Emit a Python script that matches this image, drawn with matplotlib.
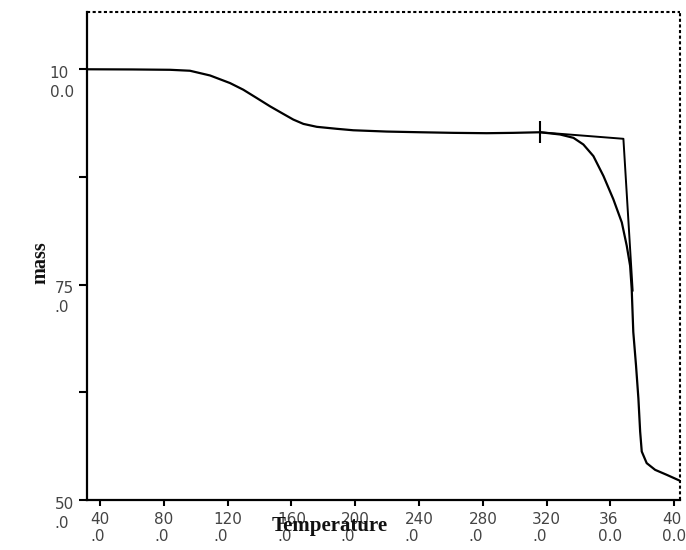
import matplotlib
matplotlib.use("Agg")
import matplotlib.pyplot as plt
from matplotlib.transforms import ScaledTranslation

# TGA curve (temperature, mass %)
temp = [31.9, 60.0, 83.9, 96.4, 109.0, 121.5, 129.8, 138.2, 146.6, 154.9, 161.2,
        167.5, 175.9, 188.4, 198.8, 219.7, 240.6, 261.5, 282.4, 299.1, 315.9,
        328.4, 336.8, 343.0, 349.3, 355.6, 361.8, 367.1, 370.2, 372.3, 373.3,
        374.3, 376.0, 377.5, 378.6, 379.6, 382.7, 388.0, 395.3, 403.6]
mass = [100.0, 99.98, 99.94, 99.83, 99.28, 98.40, 97.63, 96.67, 95.70, 94.82, 94.16,
        93.66, 93.32, 93.09, 92.92, 92.77, 92.69, 92.62, 92.58, 92.62, 92.69,
        92.43, 92.04, 91.27, 89.92, 87.61, 84.91, 82.22, 79.51, 77.20, 74.51,
        69.50, 65.64, 61.79, 57.94, 55.63, 54.28, 53.50, 52.92, 52.23]

# onset construction: tangent lines and onset marker
tangent_t = [315.9, 368.1, 373.9]
tangent_m = [92.69, 91.93, 74.31]
onset_t = [315.9]
onset_m = [92.69]

xticks = [40, 80, 120, 160, 200, 240, 280, 320, 360, 400]
xtick_labels = ["40\n.0", "80\n.0", "120\n.0", "160\n.0", "200\n.0", "240\n.0",
                "280\n.0", "320\n.0", "36\n0.0", "40\n0.0"]
yticks = [50, 62.5, 75, 87.5, 100]
ytick_labels = ["50\n.0", "", "75\n.0", "", "10\n0.0"]

fig = plt.figure(figsize=(6.86, 5.5), dpi=100)
ax = fig.add_axes([0.1268, 0.0909, 0.8645, 0.8873])

ax.plot(temp, mass, color="black", lw=1.6, solid_joinstyle="round")
ax.plot(tangent_t, tangent_m, color="black", lw=1.4)
ax.plot(onset_t, onset_m, marker="|", markersize=16, mew=1.5, color="black", linestyle="none")

ax.set_xlim(31.85, 403.6)
ax.set_ylim(50, 106.65)

ax.set_xticks(xticks, xtick_labels)
ax.set_yticks(yticks, ytick_labels)
ax.tick_params(axis="x", length=4, width=1.5, pad=4.5, labelsize=11, labelcolor="#444444")
ax.tick_params(axis="y", length=5.8, width=1.5, pad=3.6, labelsize=11, labelcolor="#444444")
for lab in ax.get_xticklabels():
    lab.set_multialignment("left")
# first line of each wrapped y label sits on its tick
shift = ScaledTranslation(0, 0.035, fig.dpi_scale_trans)
for lab in ax.get_yticklabels():
    lab.set_multialignment("left")
    lab.set_linespacing(1.35)
    lab.set_va("top")
    lab.set_transform(lab.get_transform() + shift)

for side in ["left", "bottom"]:
    ax.spines[side].set_linewidth(1.6)
for side in ["top", "right"]:
    ax.spines[side].set_linewidth(1.5)
    ax.spines[side].set_linestyle((0, (1.5, 1.2)))
    ax.spines[side].set_capstyle("butt")

ax.set_xlabel("Temperature", fontsize=15, fontweight="bold", family="Liberation Serif",
              color="#111111", va="center")
ax.xaxis.set_label_coords(0.41, -0.053)
ax.set_ylabel("mass", fontsize=14.5, fontweight="bold", family="Liberation Serif",
              color="#111111", va="center")
ax.yaxis.set_label_coords(-0.079, 0.487)

fig.savefig("out.png", dpi=100)
